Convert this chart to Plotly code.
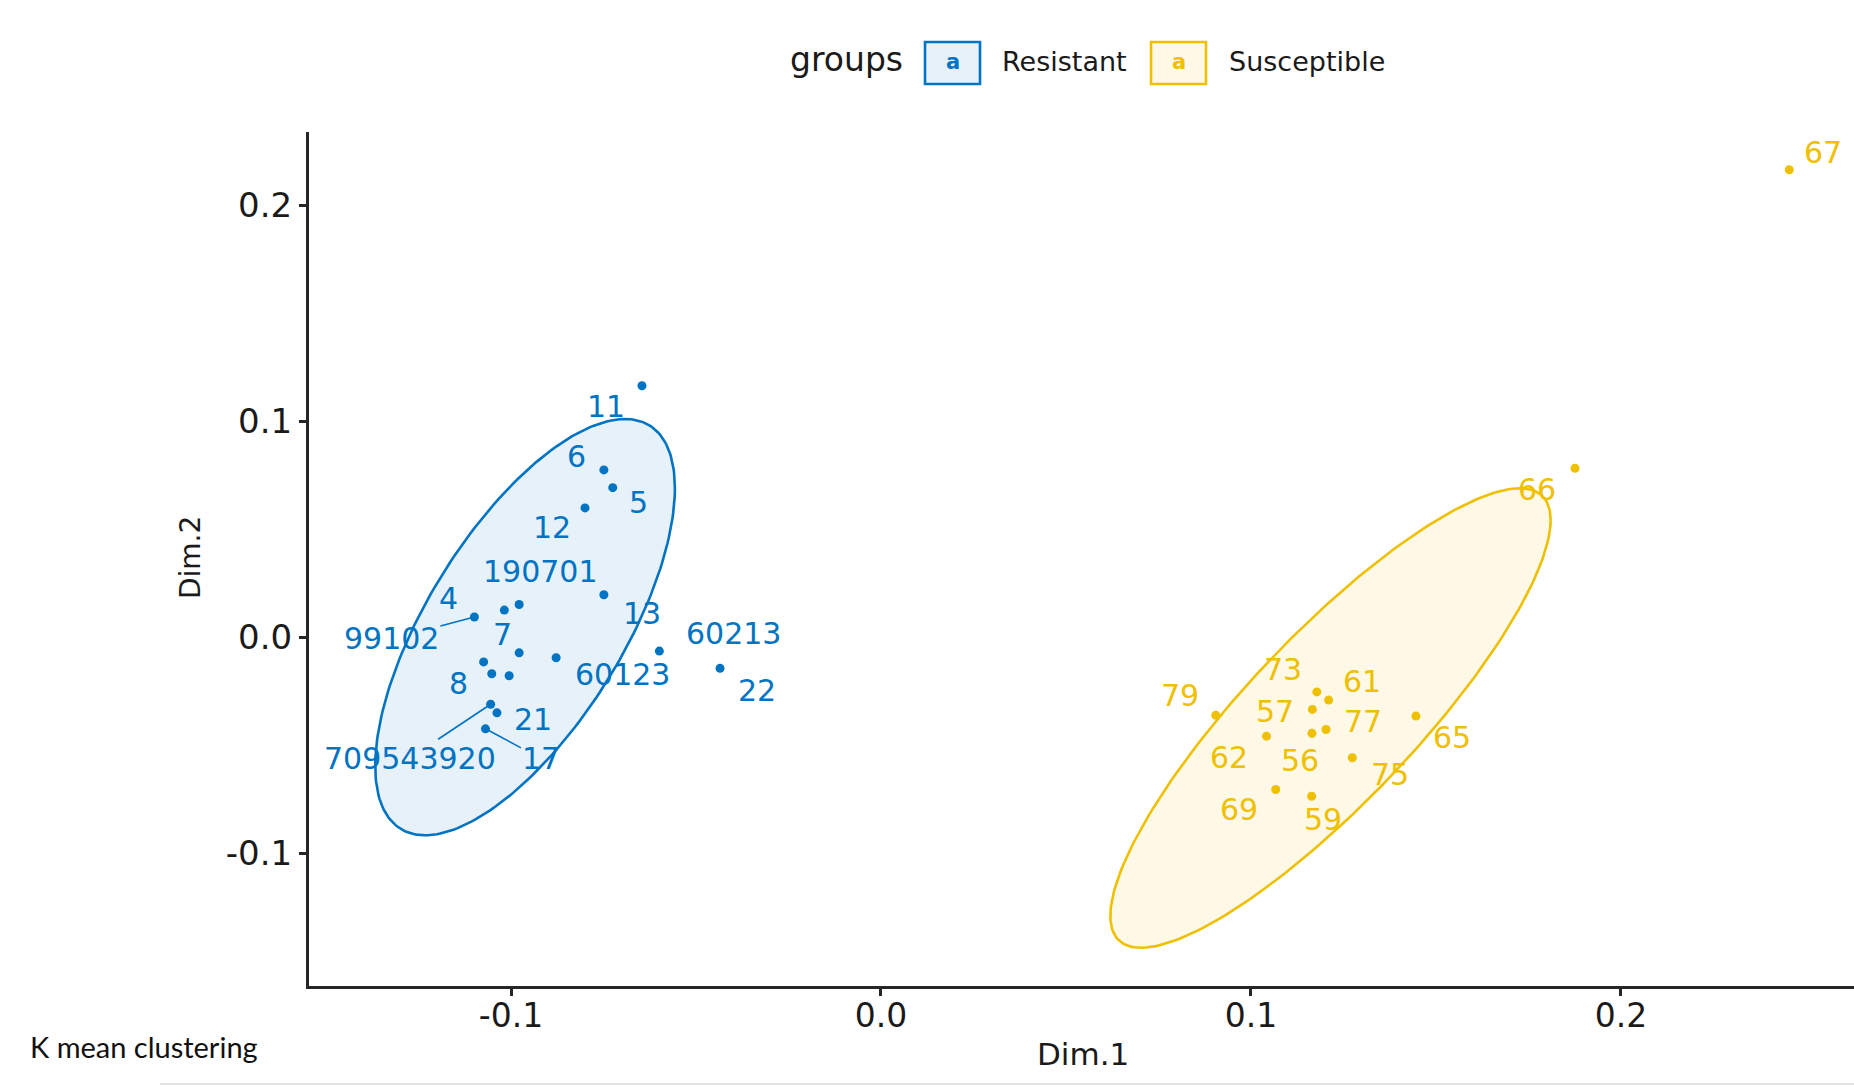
import numpy as np
import plotly.graph_objects as go

# ---- k-means clustering on the first two dimensions ----
res_labels = ["11", "6", "5", "12", "13", "190701", "4", "99102", "7", "60123",
              "60213", "22", "8", "", "", "709543920", "21", "17"]
res_dim1 = [-0.0646, -0.0749, -0.0725, -0.0800, -0.0749, -0.0978, -0.1018, -0.1099, -0.0978, -0.0878,
            -0.0599, -0.0435, -0.1074, -0.1052, -0.1005, -0.1055, -0.1038, -0.1069]
res_dim2 = [0.1165, 0.0775, 0.0693, 0.0599, 0.0197, 0.0152, 0.0126, 0.0094, -0.0072, -0.0095,
            -0.0064, -0.0144, -0.0114, -0.0169, -0.0178, -0.0310, -0.0350, -0.0424]

sus_labels = ["66", "73", "61", "57", "77", "56", "79", "62", "65", "75", "69", "59", "67"]
sus_dim1 = [0.1876, 0.1178, 0.1210, 0.1166, 0.1203, 0.1165, 0.0905, 0.1042, 0.1446, 0.1274,
            0.1067, 0.1164, 0.2455]
sus_dim2 = [0.0783, -0.0253, -0.0291, -0.0334, -0.0427, -0.0445, -0.0361, -0.0458, -0.0365, -0.0558,
            -0.0705, -0.0736, 0.2165]

# normal concentration ellipses: centre, spread on each axis, correlation
res_ellipse = dict(cx=-0.0962, cy=0.0047, sx=0.0405, sy=0.0964, rho=0.667)
sus_ellipse = dict(cx=0.1215, cy=-0.0374, sx=0.0595, sy=0.1064, rho=0.861)

x_ticks = [-0.1, 0.0, 0.1, 0.2]
x_tick_text = ["-0.1", "0.0", "0.1", "0.2"]
y_ticks = [-0.1, 0.0, 0.1, 0.2]
y_tick_text = ["-0.1", "0.0", "0.1", "0.2"]

group_names = ["Resistant", "Susceptible"]
BLUE, YELLOW = "#0073C2", "#EFC000"
BLUE_FILL, YELLOW_FILL = "#E6F1F9", "#FDF9E6"

# repelled label placement (pixel offsets right / down from the point)
label_offset = {
    "11": (-36, 21), "6": (-27, -13), "5": (26, 15), "12": (-33, 20), "13": (38, 19),
    "190701": (21, -33), "4": (-56, -12), "7": (-17, -18), "60123": (66, 17),
    "60213": (74, -18), "22": (37, 22), "8": (-25, 22), "21": (36, 7),
    "66": (-38, 21), "73": (-34, -22), "61": (33, -19), "57": (-37, 2), "77": (37, -8),
    "56": (-12, 27), "79": (-36, -20), "62": (-37, 21), "65": (36, 21), "75": (38, 17),
    "69": (-37, 20), "59": (11, 23), "67": (34, -17),
}
leader_offset = {"99102": (-83, 22), "709543920": (-81, 54), "17": (56, 30)}

# figure geometry
W, H = 1854, 1087
L_M, R_M, T_M, B_M = 309, 0, 132, 101
PW, PH = W - L_M - R_M, H - T_M - B_M
X_RANGE = [-0.1546, 0.2630]
Y_RANGE = [-0.1615, 0.2340]

FONT = "DejaVu Sans"


def px(xp):
    return (xp - L_M) / PW


def py(yp):
    return (H - B_M - yp) / PH


def ellipse_path(e, n=241):
    t = np.linspace(0, 2 * np.pi, n)
    c = e["rho"] * e["sx"] * e["sy"]
    cov = np.array([[e["sx"] ** 2, c], [c, e["sy"] ** 2]])
    chol = np.linalg.cholesky(cov)
    pts = chol @ np.vstack([np.cos(t), np.sin(t)])
    return e["cx"] + pts[0], e["cy"] + pts[1]


fig = go.Figure()

for name, ell, line_c, fill_c in [(group_names[0], res_ellipse, BLUE, BLUE_FILL),
                                  (group_names[1], sus_ellipse, YELLOW, YELLOW_FILL)]:
    ex, ey = ellipse_path(ell)
    fig.add_trace(go.Scatter(x=ex, y=ey, mode="lines", fill="toself", fillcolor=fill_c,
                             line=dict(color=line_c, width=2.6), hoverinfo="skip",
                             showlegend=False, name=name))

for name, xs, ys, col in [(group_names[0], res_dim1, res_dim2, BLUE),
                          (group_names[1], sus_dim1, sus_dim2, YELLOW)]:
    fig.add_trace(go.Scatter(x=xs, y=ys, mode="markers", name=name,
                             marker=dict(color=col, size=9, line=dict(width=0)),
                             showlegend=False))

annotations = []
for labels, xs, ys, col in [(res_labels, res_dim1, res_dim2, BLUE),
                            (sus_labels, sus_dim1, sus_dim2, YELLOW)]:
    for lab, xv, yv in zip(labels, xs, ys):
        if not lab:
            continue
        font = dict(family=FONT, size=30, color=col)
        if lab in leader_offset:
            dx, dy = leader_offset[lab]
            annotations.append(dict(x=xv, y=yv, xref="x", yref="y", text=lab, font=font,
                                    showarrow=True, ax=dx, ay=dy, arrowhead=0,
                                    arrowwidth=1.6, arrowcolor=col, standoff=0))
        else:
            dx, dy = label_offset[lab]
            annotations.append(dict(x=xv, y=yv, xref="x", yref="y", text=lab, font=font,
                                    showarrow=False, xshift=dx, yshift=-dy,
                                    xanchor="center", yanchor="middle"))


def paper_text(xp, yp, text, size, color="#1a1a1a", family=FONT, xanchor="center", **kw):
    return dict(x=px(xp), y=py(yp), xref="paper", yref="paper", text=text,
                showarrow=False, xanchor=xanchor, yanchor="middle",
                font=dict(family=family, size=size, color=color), **kw)


# axis titles
annotations.append(paper_text(1083, 1054, "Dim.1", 31))
annotations.append(paper_text(190, 558, "Dim.2", 28, textangle=-90))

# legend row
annotations.append(paper_text(846, 60, "groups", 33))
shapes = []
legend_items = [(group_names[0], BLUE, BLUE_FILL, 925, 1000),
                (group_names[1], YELLOW, YELLOW_FILL, 1151, 1227)]
for name, col, fill_c, bx, tx in legend_items:
    shapes.append(dict(type="rect", xref="paper", yref="paper",
                       x0=px(bx), x1=px(bx + 55), y0=py(84), y1=py(42),
                       line=dict(color=col, width=2.6), fillcolor=fill_c))
    annotations.append(paper_text(bx + 27.5, 62, "<b>a</b>", 21, color=col))
    annotations.append(paper_text(tx, 61, name, 27, xanchor="left"))

# caption
annotations.append(paper_text(28, 1046, "K mean clustering", 29, color="#111111",
                              family="Lato", xanchor="left"))
shapes.append(dict(type="line", xref="paper", yref="paper", x0=px(160), x1=1.0,
                   y0=py(1084), y1=py(1084), line=dict(color="#e4e4e4", width=2)))

axis_common = dict(showgrid=False, zeroline=False, showline=True, linewidth=3,
                   linecolor="#262626", ticks="outside", ticklen=7, tickwidth=2.5,
                   tickcolor="#262626")

fig.update_layout(
    width=W, height=H, autosize=False,
    margin=dict(l=L_M, r=R_M, t=T_M, b=B_M, pad=0),
    paper_bgcolor="white", plot_bgcolor="white",
    xaxis=dict(range=X_RANGE, tickvals=x_ticks, ticktext=x_tick_text,
               tickfont=dict(family=FONT, size=33, color="#1a1a1a"),
               ticklabelstandoff=-9, **axis_common),
    yaxis=dict(range=Y_RANGE, tickvals=y_ticks, ticktext=y_tick_text,
               tickfont=dict(family=FONT, size=34, color="#1a1a1a"), **axis_common),
    annotations=annotations, shapes=shapes, showlegend=False,
)

fig.write_html("out.html")
